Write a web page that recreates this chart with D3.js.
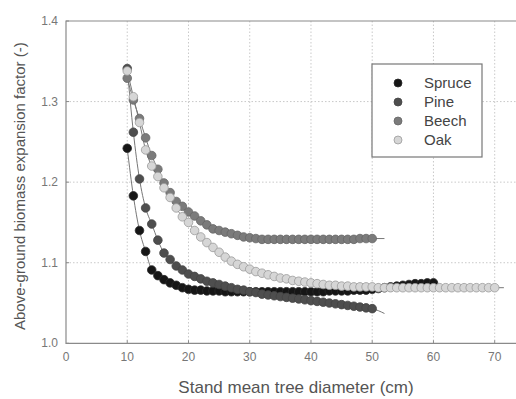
<!DOCTYPE html>
<html>
<head>
<meta charset="utf-8">
<script src="https://cdn.jsdelivr.net/npm/d3@7"></script>
<style>
  body { margin: 0; background: #fff; }
  svg { display: block; font-family: "Liberation Sans", Arial, sans-serif; }
</style>
</head>
<body>
<svg id="chart" width="516" height="399"></svg>
<script>
// ---- data ----
const xTicks = [0, 10, 20, 30, 40, 50, 60, 70];
const yTicks = [1.0, 1.1, 1.2, 1.3, 1.4];

const spruceD = d3.range(10, 61);
const spruceV = [1.242, 1.183, 1.140, 1.114, 1.091, 1.084, 1.079, 1.075, 1.072, 1.069,
  1.067, 1.066, 1.066, 1.065, 1.065, 1.065, 1.064, 1.064, 1.064, 1.064,
  1.064, 1.064, 1.064, 1.064, 1.064, 1.064, 1.064, 1.064, 1.064, 1.064,
  1.064, 1.064, 1.064, 1.065, 1.065, 1.065, 1.065, 1.066, 1.066, 1.066,
  1.067, 1.068, 1.069, 1.070, 1.071, 1.072, 1.073, 1.074, 1.074, 1.075, 1.075];

const pineD = d3.range(10, 51);
const pineV = [1.341, 1.262, 1.204, 1.168, 1.148, 1.128, 1.112, 1.104, 1.096, 1.091,
  1.086, 1.083, 1.080, 1.077, 1.075, 1.073, 1.071, 1.069, 1.067, 1.066,
  1.064, 1.063, 1.061, 1.060, 1.059, 1.058, 1.057, 1.056, 1.055, 1.054,
  1.053, 1.052, 1.051, 1.050, 1.049, 1.048, 1.047, 1.046, 1.045, 1.044, 1.043];

const beechD = d3.range(10, 51);
const beechV = [1.329, 1.302, 1.279, 1.255, 1.233, 1.216, 1.199, 1.187, 1.176, 1.170,
  1.163, 1.158, 1.152, 1.147, 1.142, 1.140, 1.138, 1.136, 1.134, 1.132,
  1.131, 1.130, 1.129, 1.129, 1.129, 1.129, 1.129, 1.129, 1.129, 1.129,
  1.129, 1.129, 1.129, 1.129, 1.129, 1.129, 1.129, 1.129, 1.130, 1.130, 1.130];

const oakD = d3.range(10, 71);
const oakV = [1.338, 1.306, 1.274, 1.240, 1.220, 1.207, 1.193, 1.181, 1.168, 1.157,
  1.150, 1.140, 1.132, 1.125, 1.119, 1.113, 1.107, 1.102, 1.098, 1.095,
  1.092, 1.089, 1.087, 1.085, 1.083, 1.081, 1.080, 1.078, 1.077, 1.076,
  1.075, 1.074, 1.073, 1.072, 1.072, 1.071, 1.071, 1.070, 1.070, 1.070,
  1.070, 1.069, 1.069, 1.069, 1.069, 1.069, 1.069, 1.069, 1.069, 1.069,
  1.069, 1.069, 1.069, 1.069, 1.069, 1.069, 1.069, 1.069, 1.069, 1.069, 1.069];

// fitted line ends a little beyond the last point
const fitEndX = { Spruce: 60.5, Pine: 52, Beech: 52, Oak: 71.5 };
const fitEndV = { Spruce: 1.076, Pine: 1.037, Beech: 1.130, Oak: 1.069 };

const seriesNames = ["Spruce", "Pine", "Beech", "Oak"];
const seriesFill = ["#161616", "#4e4e4e", "#7b7b7b", "#d6d6d6"];
const seriesStroke = ["#2a2a2a", "#444", "#666", "#9a9a9a"];

const series = [
  { name: "Spruce", d: spruceD, v: spruceV },
  { name: "Pine", d: pineD, v: pineV },
  { name: "Beech", d: beechD, v: beechV },
  { name: "Oak", d: oakD, v: oakV }
];

// ---- layout ----
const svg = d3.select("#chart");
const margin = { left: 66, top: 21, bottom: 56 };
const height = 399;

const x = d3.scaleLinear().domain([0, 70]).range([margin.left, 494.7]);
const y = d3.scaleLinear().domain([1.0, 1.4]).range([height - margin.bottom + 0.3, margin.top]);

const xRight = x(76);

// grid
svg.append("g")
  .selectAll("line.vgrid")
  .data(xTicks.filter(t => t > 0))
  .enter()
  .append("line")
  .attr("x1", d => x(d)).attr("x2", d => x(d))
  .attr("y1", y(1.4)).attr("y2", y(1.0))
  .attr("stroke", "#bbb")
  .attr("stroke-width", 0.8)
  .attr("stroke-dasharray", "1.5,2");

svg.append("g")
  .selectAll("line.hgrid")
  .data(yTicks.filter(t => t > 1.0 && t < 1.4))
  .enter()
  .append("line")
  .attr("x1", x(0)).attr("x2", xRight)
  .attr("y1", d => y(d)).attr("y2", d => y(d))
  .attr("stroke", "#bbb")
  .attr("stroke-width", 0.8)
  .attr("stroke-dasharray", "1.5,2");

// frame
svg.append("path")
  .attr("d", `M${xRight},${y(1.4)}H${x(0)}V${y(1.0)}H${xRight}`)
  .attr("fill", "none")
  .attr("stroke", "#8a8a8a")
  .attr("stroke-width", 1.2);

// tick marks
svg.append("g")
  .selectAll("line")
  .data(xTicks.filter(t => t > 0))
  .enter()
  .append("line")
  .attr("x1", d => x(d)).attr("x2", d => x(d))
  .attr("y1", y(1.0)).attr("y2", y(1.0) - 3)
  .attr("stroke", "#8a8a8a");

svg.append("g")
  .selectAll("line")
  .data(yTicks)
  .enter()
  .append("line")
  .attr("x1", x(0)).attr("x2", x(0) + 3)
  .attr("y1", d => y(d)).attr("y2", d => y(d))
  .attr("stroke", "#8a8a8a");

// tick labels
svg.append("g")
  .selectAll("text")
  .data(xTicks)
  .enter()
  .append("text")
  .attr("x", d => x(d))
  .attr("y", y(1.0) + 18)
  .attr("text-anchor", "middle")
  .style("font-size", "12px")
  .style("fill", "#777")
  .text(d => d);

svg.append("g")
  .selectAll("text")
  .data(yTicks)
  .enter()
  .append("text")
  .attr("x", x(0) - 8)
  .attr("y", d => y(d) + 4)
  .attr("text-anchor", "end")
  .style("font-size", "12px")
  .style("fill", "#777")
  .text(d => d3.format(".1f")(d));

// axis titles
svg.append("text")
  .attr("x", 296)
  .attr("y", 393)
  .attr("text-anchor", "middle")
  .style("font-size", "17px")
  .style("fill", "#555")
  .text("Stand mean tree diameter (cm)");

svg.append("text")
  .attr("transform", `translate(25, ${(y(1.0) + y(1.4)) / 2 + 4}) rotate(-90)`)
  .attr("text-anchor", "middle")
  .style("font-size", "15px")
  .style("fill", "#555")
  .text("Above-ground biomass expansion factor (-)");

// fitted lines
const line = d3.line()
  .x(p => x(p[0]))
  .y(p => y(p[1]))
  .curve(d3.curveMonotoneX);

series.forEach(s => {
  const pts = s.d.map((d, i) => [d, s.v[i]]);
  pts.push([fitEndX[s.name], fitEndV[s.name]]);
  svg.append("path")
    .datum(pts)
    .attr("d", line)
    .attr("fill", "none")
    .attr("stroke", "#777")
    .attr("stroke-width", 1);
});

// points
series.forEach((s, k) => {
  svg.append("g")
    .selectAll("circle")
    .data(s.d.map((d, i) => [d, s.v[i]]))
    .enter()
    .append("circle")
    .attr("cx", p => x(p[0]))
    .attr("cy", p => y(p[1]))
    .attr("r", 4.3)
    .attr("fill", seriesFill[k])
    .attr("stroke", seriesStroke[k])
    .attr("stroke-width", 0.8);
});

// legend
const legend = svg.append("g").attr("transform", "translate(372, 64)");
legend.append("rect")
  .attr("width", 110)
  .attr("height", 93)
  .attr("fill", "#fff")
  .attr("stroke", "#777")
  .attr("stroke-width", 1.2);

const rows = legend.selectAll("g.row")
  .data(seriesNames)
  .enter()
  .append("g")
  .attr("transform", (d, i) => `translate(26, ${19 + i * 19})`);

rows.append("circle")
  .attr("r", 4)
  .attr("fill", (d, i) => seriesFill[i])
  .attr("stroke", (d, i) => seriesStroke[i])
  .attr("stroke-width", 0.8);

rows.append("text")
  .attr("x", 26)
  .attr("y", 5)
  .style("font-size", "15px")
  .style("fill", "#444")
  .text(d => d);
</script>
</body>
</html>
